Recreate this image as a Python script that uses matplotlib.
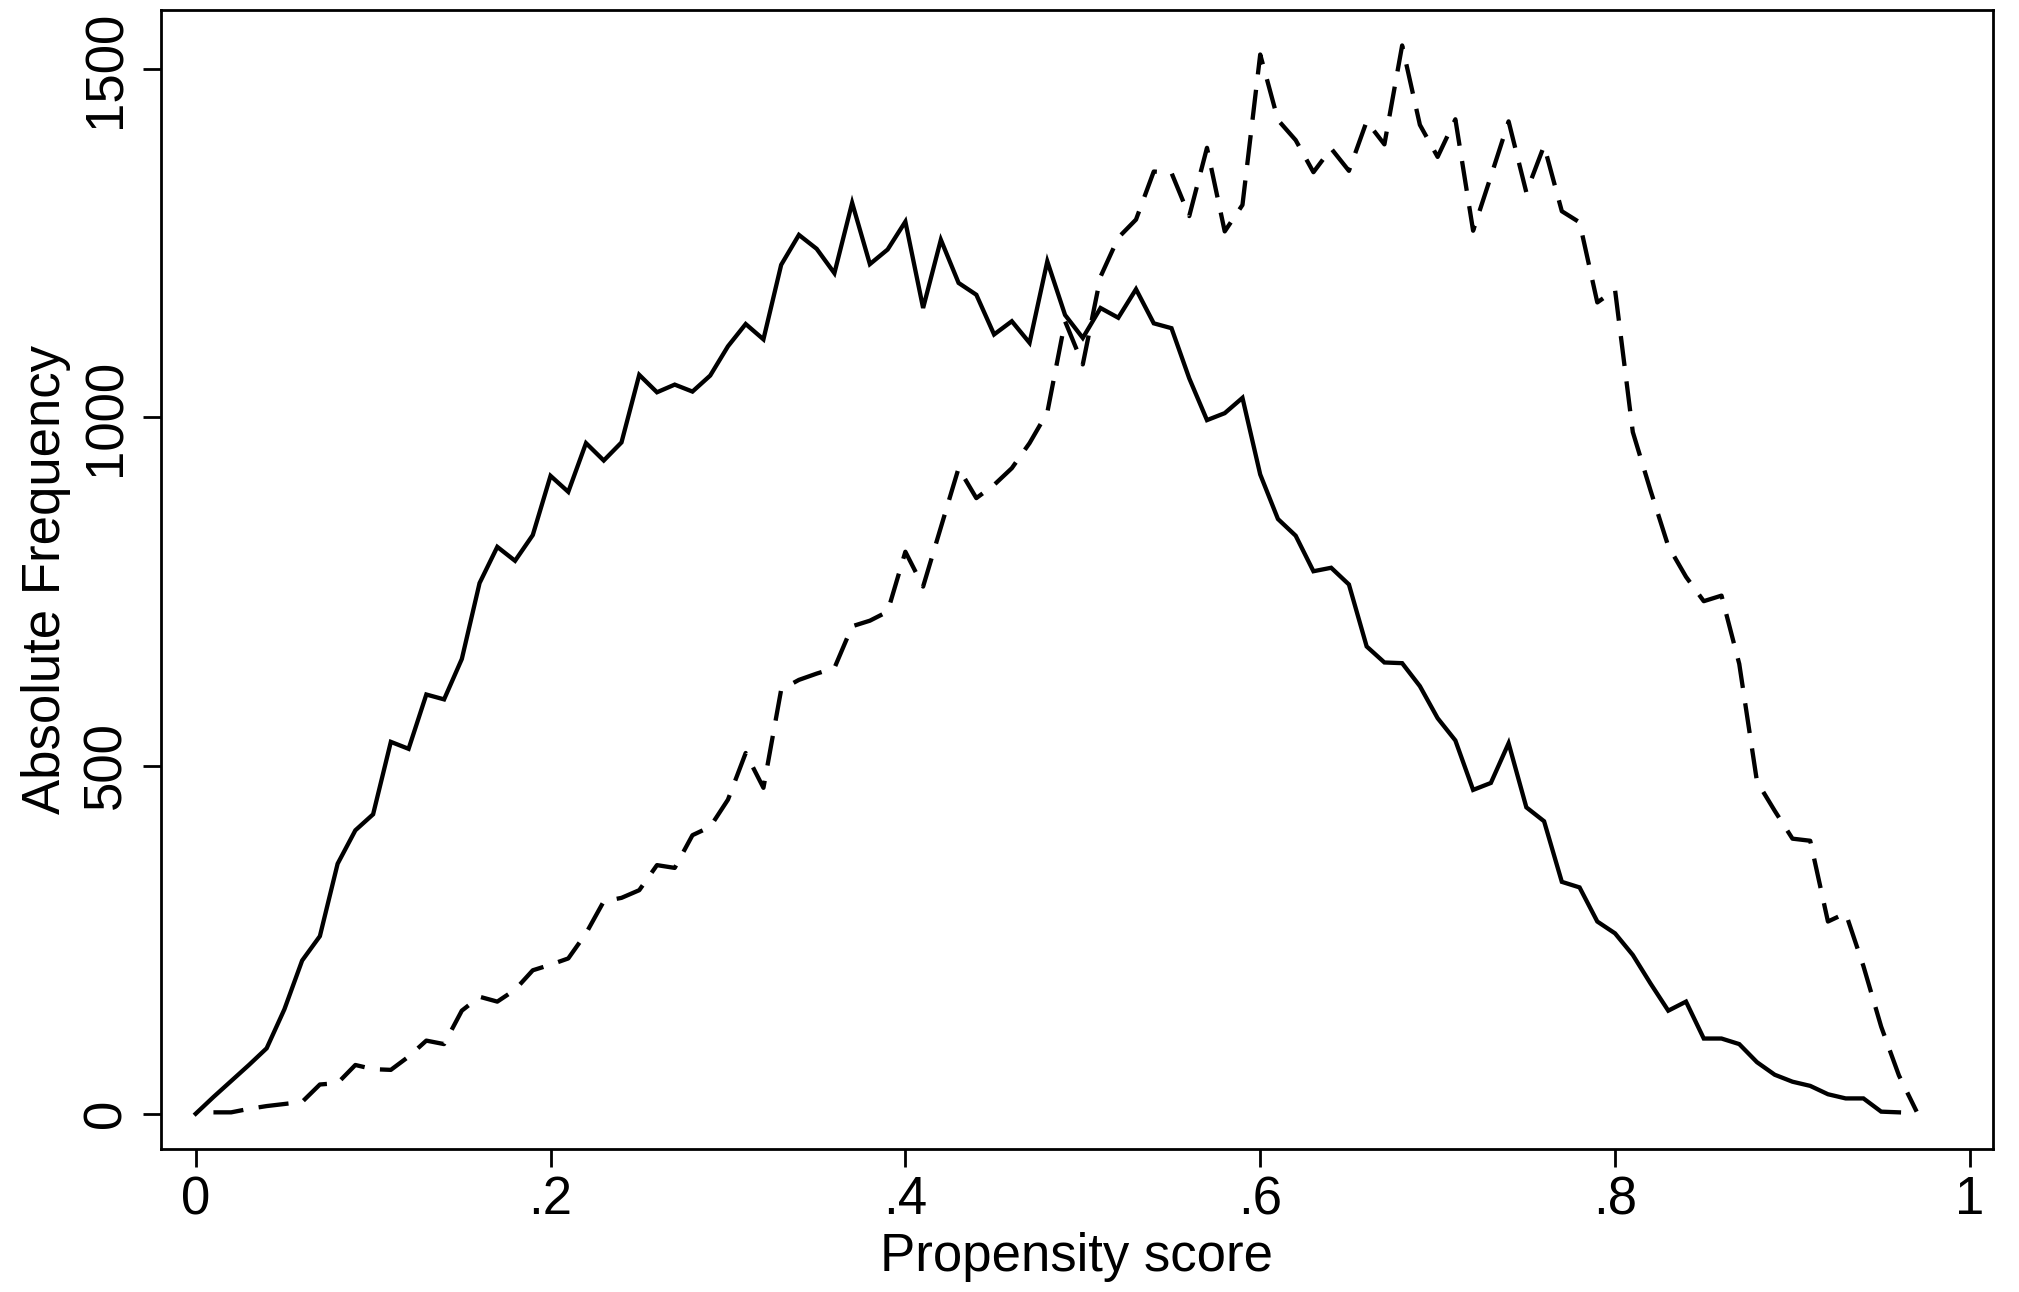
import numpy as np
import matplotlib
matplotlib.use("Agg")
import matplotlib.pyplot as plt

plt.rcParams["font.family"] = ["Liberation Sans", "DejaVu Sans"]

# Frequency of propensity scores by bin (bin width 0.01)
solid_scores = [round(0.01 * i, 2) for i in range(0, 97)]
solid_freq = [
    0, 24, 47, 70, 94, 150, 220, 255, 359, 407,
    430, 534, 524, 602, 595, 653, 762, 814, 794, 831,
    916, 893, 963, 938, 964, 1061, 1036, 1047, 1037, 1060,
    1102, 1134, 1112, 1219, 1262, 1242, 1207, 1308, 1220, 1241,
    1281, 1157, 1255, 1193, 1176, 1119, 1138, 1107, 1224, 1147,
    1114, 1157, 1143, 1184, 1135, 1128, 1056, 996, 1006, 1028,
    918, 854, 830, 779, 784, 760, 671, 648, 647, 614,
    568, 536, 465, 475, 532, 440, 420, 333, 325, 276,
    259, 228, 187, 148, 161, 108, 108, 100, 74, 56,
    46, 40, 28, 22, 22, 3, 2,
]

dashed_scores = [round(0.01 * i, 2) for i in range(1, 98)]
dashed_freq = [
    2, 2, 7, 11, 14, 17, 42, 44, 70,
    64, 63, 82, 105, 100, 148, 168, 161, 178, 206,
    214, 223, 259, 305, 310, 321, 357, 353, 400, 412,
    451, 518, 468, 609, 623, 632, 640, 700, 708, 721,
    807, 757, 842, 927, 884, 903, 927, 963, 1007, 1138,
    1076, 1202, 1258, 1284, 1353, 1351, 1289, 1387, 1267, 1305,
    1521, 1427, 1398, 1352, 1386, 1354, 1425, 1392, 1534, 1420,
    1374, 1428, 1268, 1346, 1425, 1323, 1390, 1296, 1280, 1165,
    1183, 979, 895, 815, 771, 736, 744, 646, 477, 435,
    395, 392, 276, 288, 212, 125, 55, 3,
]

x_ticks = [0, 0.2, 0.4, 0.6, 0.8, 1.0]
x_tick_labels = ["0", ".2", ".4", ".6", ".8", "1"]
y_ticks = [0, 500, 1000, 1500]
y_tick_labels = ["0", "500", "1000", "1500"]

fig = plt.figure(figsize=(20.19, 12.92), dpi=100)
ax = fig.add_axes([0.0797, 0.1107, 0.9074, 0.8816])

ax.plot(solid_scores, solid_freq, color="black", linewidth=3.1,
        solid_joinstyle="miter")
ax.plot(dashed_scores, dashed_freq, color="black", linewidth=3.1,
        dashes=(7.0, 3.6), dash_capstyle="butt")

ax.set_xlim(-0.0196, 1.013)
ax.set_ylim(-50.6, 1585)

ax.set_xticks(x_ticks)
ax.set_xticklabels(x_tick_labels)
ax.set_yticks(y_ticks)
ax.set_yticklabels(y_tick_labels, rotation=90, va="center")

ax.tick_params(axis="both", direction="out", length=13, width=2.0,
               labelsize=38, color="black", labelcolor="black")
ax.tick_params(axis="x", pad=6)
ax.tick_params(axis="y", pad=8)

for spine in ax.spines.values():
    spine.set_linewidth(2.0)
    spine.set_color("black")

ax.set_xlabel("Propensity score", fontsize=38, labelpad=5)
ax.set_ylabel("Absolute Frequency", fontsize=38, labelpad=8)

fig.savefig("out.png", dpi=100, facecolor="white")
